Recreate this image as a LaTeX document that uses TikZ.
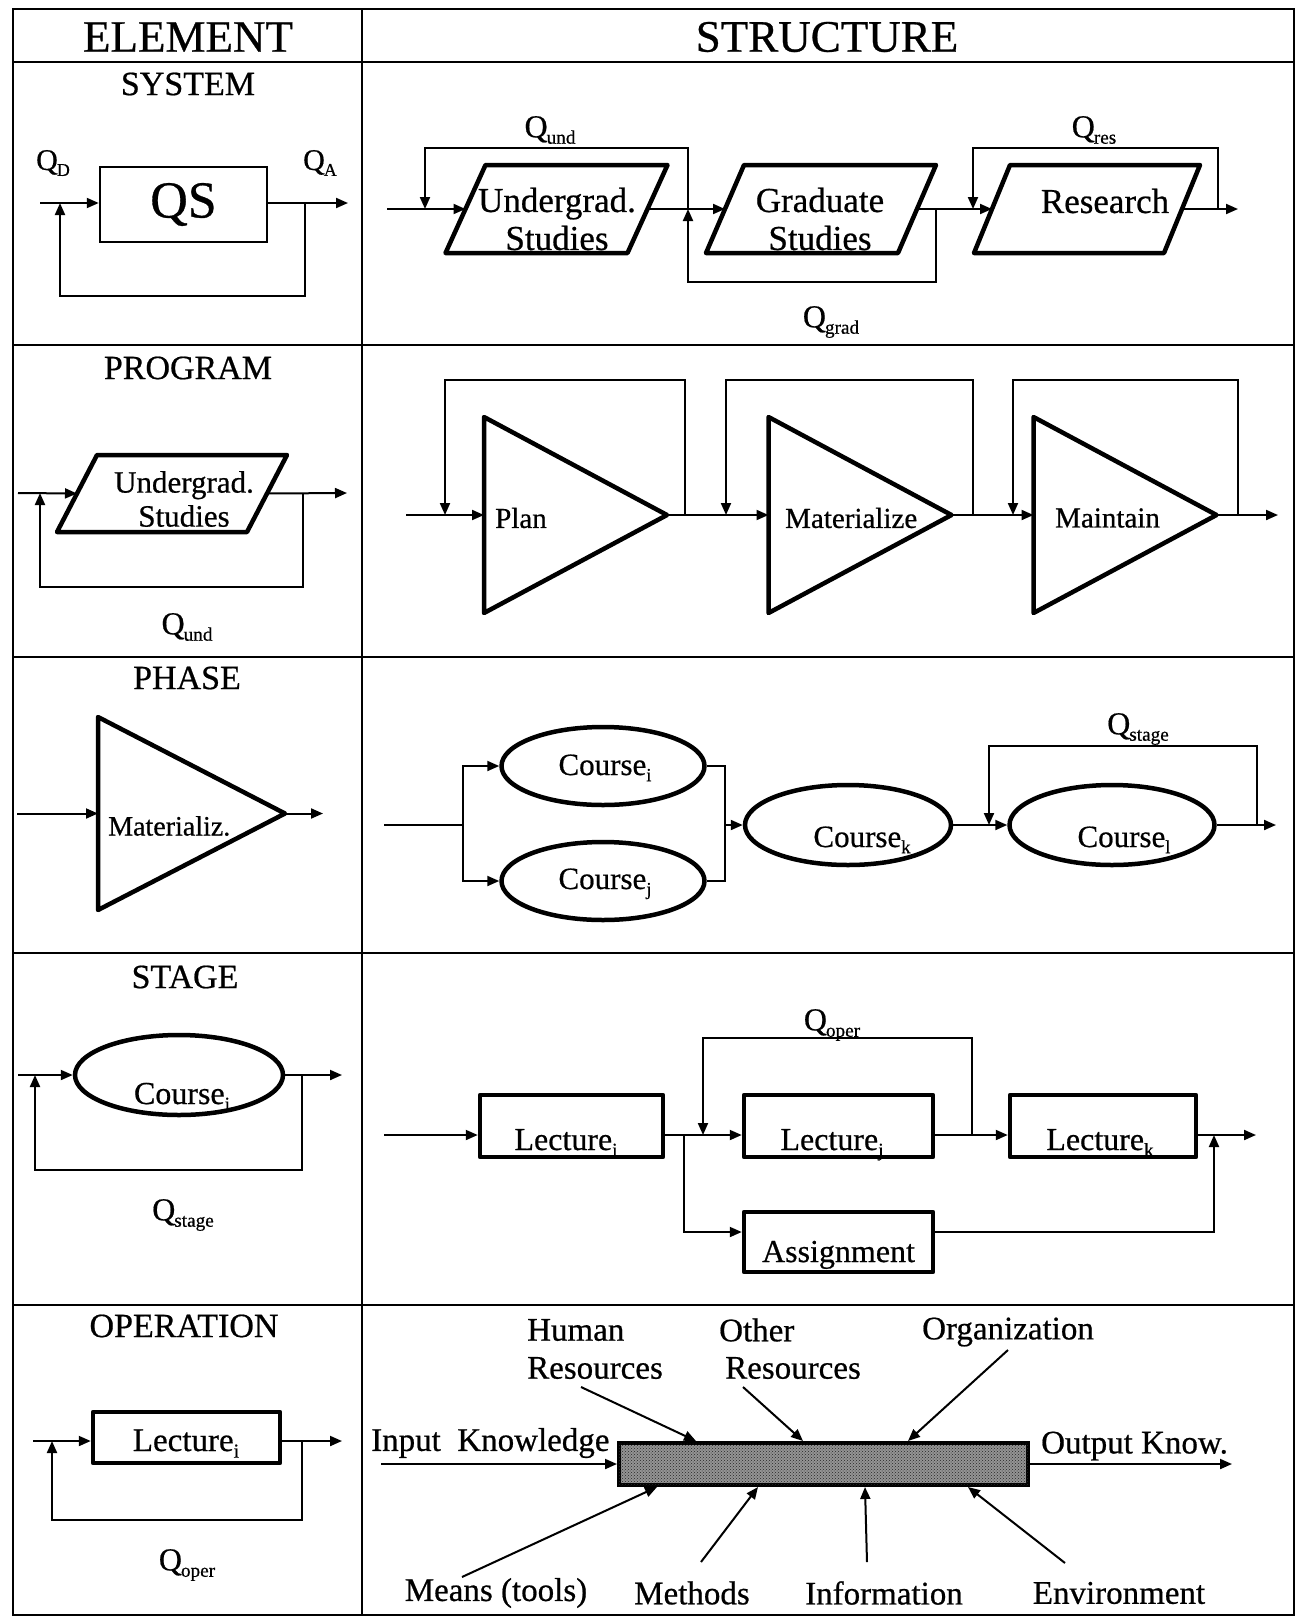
\documentclass[tikz,border=0pt]{standalone}
\usepackage{fontspec}
\setmainfont[FakeBold=0.6]{Liberation Serif}
\usepackage{graphicx}
\usetikzlibrary{arrows.meta,shapes.geometric,patterns,calc}

\newcommand\fs[1]{\fontsize{#1}{#1}\selectfont}
\newcommand\fsl[2]{\fontsize{#1}{#2}\selectfont}
\newcommand\lsub[1]{\raisebox{-0.2em}{\scalebox{0.6}{#1}}}
\newcommand\qlab[1]{Q\kern-1pt\lsub{#1}}
% parallelogram drawn over an invisible frame node
\newcommand\parashape[2]{\draw[heavy] ([xshift=#2pt]#1.north west) -- ([xshift=#2pt]#1.north east) -- ([xshift=-#2pt]#1.south east) -- ([xshift=-#2pt]#1.south west) -- cycle;}
% right-pointing triangle drawn over an invisible frame node
\newcommand\trishape[1]{\draw[heavy] (#1.north west) -- (#1.east) -- (#1.south west) -- cycle;}

\tikzset{
  grid/.style={line width=2.6pt},
  wire/.style={line width=2pt},
  flow/.style={wire, -{Triangle[length=12pt,width=10pt]}},
  heavy/.style={line width=4.5pt, line join=round},
  frame/.style={draw=none, outer sep=0pt, inner sep=0pt},
  hdr/.style={inner sep=0pt, font=\fs{45}},
  ttl/.style={inner sep=0pt, font=\fs{34}},
  txt/.style={inner sep=0pt, font=\fs{33}},
  qtxt/.style={inner sep=0pt, font=\fs{32}},
  lab/.style={inner sep=0pt, anchor=base},
  course/.style={ellipse, draw, heavy, inner sep=0pt},
  lbox/.style={draw, heavy, inner sep=0pt, minimum height=62pt},
}

\begin{document}
\begin{tikzpicture}[x=1pt,y=-1pt]
\useasboundingbox (0,0) rectangle (1297,1618);

% ---------- table grid ----------
\draw[grid] (13,9) rectangle (1294,1615);
\draw[grid] (362,9) -- (362,1615);
\foreach \yy in {62,345,657,953,1305}
  \draw[grid] (13,\yy) -- (1294,\yy);

\node[hdr] (hEl) at (188,37) {ELEMENT};
\node[hdr] (hSt) at (827,37) {STRUCTURE};

\node[ttl] (tSys) at (188,84) {SYSTEM};
\node[ttl] (tPrg) at (188,368) {PROGRAM};
\node[ttl] (tPha) at (187,678) {PHASE};
\node[ttl] (tStg) at (185,977) {STAGE};
\node[ttl] (tOpe) at (184,1326) {OPERATION};

% ---------- SYSTEM : element ----------
\node[draw, line width=2.5pt, minimum width=167pt, minimum height=75pt, inner sep=0pt, font=\fs{52}] (qs) at (183.5,204.5) {QS};
\coordinate (a1) at (40,203);
\coordinate (a2) at (348,203);
\coordinate (a3) at (305,296);
\coordinate (a4) at (60,296);
\draw[flow] (a1) -- (a1 -| qs.west);
\draw[flow] (a2 -| qs.east) -- (a2);
\draw[flow] (a3 |- a2) -- (a3) -- (a4) -- (a4 |- a1);
\node[inner sep=0pt, font=\fs{30}] (lQD) at (53,163) {\qlab{D}};
\node[inner sep=0pt, font=\fs{30}] (lQA) at (320,163) {\qlab{A}};

% ---------- SYSTEM : structure ----------
\node[frame, minimum width=182pt, minimum height=88pt] (ug) at (556.5,209) {};
\parashape{ug}{20}
\node[inner sep=0pt, font=\fsl{35}{38}, align=center] (ugT) at (557,219) {Undergrad.\\Studies};
\node[frame, minimum width=192pt, minimum height=88pt] (gs) at (821,209) {};
\parashape{gs}{19}
\node[inner sep=0pt, font=\fsl{35}{38}, align=center] (gsT) at (820,219) {Graduate\\Studies};
\node[frame, minimum width=190pt, minimum height=88pt] (rs) at (1087,209) {};
\parashape{rs}{18}
\node[inner sep=0pt, font=\fs{35}] (rsT) at (1105,201) {Research};

\coordinate (b0) at (387,209);
\coordinate (b1) at (425,148);
\coordinate (b2) at (688,148);
\coordinate (b3) at (936,282);
\coordinate (b4) at (688,282);
\coordinate (b5) at (973,148);
\coordinate (b6) at (1218,148);
\coordinate (b7) at (1238,209);
\draw[flow] (b0) -- (ug.west);
\draw[flow] (ug.east) -- (gs.west);
\draw[flow] (gs.east) -- (rs.west);
\draw[flow] (rs.east) -- (b7);
\draw[flow] (b2 |- ug.east) -- (b2) -- (b1) -- (b1 |- ug.west);
\draw[flow] (b3 |- gs.east) -- (b3) -- (b4) -- (b4 |- gs.west);
\draw[flow] (b6 |- b7) -- (b6) -- (b5) -- (b5 |- rs.west);
\node[qtxt] (lQu) at (550,130) {\qlab{und}};
\node[qtxt] (lQg) at (831,322) {\qlab{grad}};
\node[qtxt] (lQr) at (1094,130) {\qlab{res}};

% ---------- PROGRAM : element ----------
\node[frame, minimum width=190pt, minimum height=77pt] (pu) at (172,493.5) {};
\parashape{pu}{20}
\node[inner sep=0pt, font=\fsl{31}{34}, align=center] (puT) at (184,499) {Undergrad.\\Studies};
\coordinate (c0) at (18,493);
\coordinate (c1) at (303,587);
\coordinate (c2) at (40,587);
\coordinate (c3) at (347,493);
\draw[flow] (c0) -- (pu.west);
\draw[flow] (pu.east) -- (c3);
\draw[flow] (c1 |- c3) -- (c1) -- (c2) -- (c2 |- c0);
\node[qtxt] (lQu2) at (187,627) {\qlab{und}};

% ---------- PROGRAM : structure ----------
\node[frame, minimum width=183pt, minimum height=196pt] (tp) at (575.5,515) {};
\trishape{tp}
\node[frame, minimum width=183pt, minimum height=196pt] (tm) at (860,515) {};
\trishape{tm}
\node[frame, minimum width=183pt, minimum height=196pt] (tn) at (1125,515) {};
\trishape{tn}
\node[inner sep=0pt, font=\fs{29}, anchor=west] (tpT) at (495,518) {Plan};
\node[inner sep=0pt, font=\fs{29}, anchor=west] (tmT) at (785,518) {Materialize};
\node[inner sep=0pt, font=\fs{29}, anchor=west] (tnT) at (1055,518) {Maintain};

\coordinate (d0) at (406,515);
\coordinate (d1) at (445,380);
\coordinate (d2) at (685,380);
\coordinate (d3) at (726,380);
\coordinate (d4) at (973,380);
\coordinate (d5) at (1013,380);
\coordinate (d6) at (1238,380);
\coordinate (d7) at (1278,515);
\draw[flow] (d0) -- (tp.west);
\draw[flow] (tp.east) -- (tm.west);
\draw[flow] (tm.east) -- (tn.west);
\draw[flow] (tn.east) -- (d7);
\draw[flow] (d2 |- tp.east) -- (d2) -- (d1) -- (d1 |- tp.west);
\draw[flow] (d4 |- tm.east) -- (d4) -- (d3) -- (d3 |- tm.west);
\draw[flow] (d6 |- tn.east) -- (d6) -- (d5) -- (d5 |- tn.west);

% ---------- PHASE : element ----------
\node[frame, minimum width=187pt, minimum height=193pt] (ph) at (191.5,813.5) {};
\trishape{ph}
\node[inner sep=0pt, font=\fs{28}, anchor=west] (phT) at (108,826) {Materializ.};
\coordinate (e0) at (17,813.5);
\coordinate (e1) at (323,813.5);
\draw[flow] (e0) -- (ph.west);
\draw[flow] (ph.east) -- (e1);

% ---------- PHASE : structure ----------
\node[course, minimum width=203pt, minimum height=78pt] (ci) at (603,766) {};
\node[course, minimum width=203pt, minimum height=78pt] (cj) at (603,881) {};
\node[course, minimum width=206pt, minimum height=80pt] (ck) at (848,825) {};
\node[course, minimum width=205pt, minimum height=80pt] (cl) at (1112,825) {};
\node[lab, font=\fs{31}] (ciT) at (605,775) {Course\lsub{i}};
\node[lab, font=\fs{31}] (cjT) at (605,889) {Course\lsub{j}};
\node[lab, font=\fs{31}] (ckT) at (862,847) {Course\lsub{k}};
\node[lab, font=\fs{31}] (clT) at (1124,847) {Course\lsub{l}};

\coordinate (f0) at (384,825);
\coordinate (f1) at (463,825);
\coordinate (f2) at (725,825);
\coordinate (f3) at (989,746);
\coordinate (f4) at (1257,746);
\coordinate (f5) at (1276,825);
\draw[wire] (f0) -- (f1);
\draw[flow] (f1) |- (ci.west);
\draw[flow] (f1) |- (cj.west);
\draw[wire] (ci.east) -| (f2);
\draw[wire] (cj.east) -| (f2);
\draw[flow] (f2) -- (ck.west);
\draw[flow] (ck.east) -- (cl.west);
\draw[flow] (cl.east) -- (f5);
\draw[flow] (f4 |- cl.east) -- (f4) -- (f3) -- (f3 |- cl.west);
\node[qtxt] (lQs) at (1138,729) {\qlab{stage}};

% ---------- STAGE : element ----------
\node[course, minimum width=208pt, minimum height=80pt] (sc) at (179,1075) {};
\node[lab, font=\fs{32}] (scT) at (182,1104) {Course\lsub{i}};
\coordinate (g0) at (18,1075);
\coordinate (g1) at (302,1170);
\coordinate (g2) at (35,1170);
\coordinate (g3) at (342,1075);
\draw[flow] (g0) -- (sc.west);
\draw[flow] (sc.east) -- (g3);
\draw[flow] (g1 |- g3) -- (g1) -- (g2) -- (g2 |- g0);
\node[qtxt] (lQs2) at (183,1215) {\qlab{stage}};

% ---------- STAGE : structure ----------
\node[lbox, minimum width=183pt] (li) at (571.5,1126) {};
\node[lbox, minimum width=189pt] (lj) at (838.5,1126) {};
\node[lbox, minimum width=186pt] (lk) at (1103,1126) {};
\node[lbox, minimum width=189pt, minimum height=60pt] (as) at (838.5,1242) {};
\node[lab, font=\fs{32}] (liT) at (566,1150) {Lecture\lsub{i}};
\node[lab, font=\fs{32}] (ljT) at (832,1150) {Lecture\lsub{j}};
\node[lab, font=\fs{32}] (lkT) at (1100,1150) {Lecture\lsub{k}};
\node[lab, font=\fs{32}] (asT) at (838.5,1262) {Assignment};

\coordinate (h0) at (384,1135);
\coordinate (h1) at (684,1232);
\coordinate (h2) at (703,1038);
\coordinate (h3) at (972,1038);
\coordinate (h4) at (1214,1232);
\coordinate (h5) at (1256,1135);
\draw[flow] (h0) -- (h0 -| li.west);
\draw[flow] (h0 -| li.east) -- (h0 -| lj.west);
\draw[flow] (h0 -| lj.east) -- (h0 -| lk.west);
\draw[flow] (h0 -| lk.east) -- (h5);
\draw[flow] (h1 |- h0) -- (h1) -- (h1 -| as.west);
\draw[flow] (h1 -| as.east) -- (h4) -- (h4 |- h0);
\draw[flow] (h3 |- h0) -- (h3) -- (h2) -- (h2 |- h0);
\node[qtxt] (lQo) at (832,1025) {\qlab{oper}};

% ---------- OPERATION : element ----------
\node[draw, heavy, inner sep=0pt, minimum width=187pt, minimum height=51pt] (ob) at (186.5,1437.5) {};
\node[lab, font=\fs{33}] (obT) at (186,1451) {Lecture\lsub{i}};
\coordinate (k0) at (33,1441);
\coordinate (k1) at (302,1520);
\coordinate (k2) at (52,1520);
\coordinate (k3) at (342,1441);
\draw[flow] (k0) -- (k0 -| ob.west);
\draw[flow] (k0 -| ob.east) -- (k3);
\draw[flow] (k1 |- k0) -- (k1) -- (k2) -- (k2 |- k0);
\node[qtxt] (lQo2) at (187,1565) {\qlab{oper}};

% ---------- OPERATION : structure ----------
\node[draw, line width=4pt, inner sep=0pt, minimum width=409pt, minimum height=42pt,
      fill=black!42, postaction={pattern=crosshatch dots, pattern color=black!85}] (kb) at (823.5,1464) {};
\coordinate (m0) at (381,1464);
\coordinate (m1) at (1232,1464);
\draw[flow] (m0) -- (kb.west);
\draw[flow] (kb.east) -- (m1);

\coordinate (n1) at (581,1387);
\coordinate (n2) at (743,1387);
\coordinate (n3) at (1008,1350);
\coordinate (n4) at (462,1577);
\coordinate (n5) at (701,1562);
\coordinate (n6) at (867,1562);
\coordinate (n7) at (1065,1563);
\draw[flow] (n1) -- ([xshift=79pt]kb.north west);
\draw[flow] (n2) -- ([xshift=186pt]kb.north west);
\draw[flow] (n3) -- ([xshift=291pt]kb.north west);
\draw[flow] (n4) -- ([xshift=40pt]kb.south west);
\draw[flow] (n5) -- ([xshift=141pt]kb.south west);
\draw[flow] (n6) -- ([xshift=248pt]kb.south west);
\draw[flow] (n7) -- ([xshift=351pt]kb.south west);

\node[txt, anchor=west] (lIn) at (371,1443) {Input\ \ Knowledge};
\node[txt, anchor=west] (lOut) at (1041,1446) {Output Know.};
\node[txt, anchor=west] (lHu) at (527,1330) {Human};
\node[txt, anchor=west] (lHr) at (527,1368) {Resources};
\node[txt, anchor=west] (lOt) at (719,1330) {Other};
\node[txt, anchor=west] (lOr) at (725,1368) {Resources};
\node[txt, anchor=west] (lOrg) at (922,1332) {Organization};
\node[txt] (lMe) at (496,1593) {Means (tools)};
\node[txt] (lMt) at (692,1593) {Methods};
\node[txt] (lIf) at (884,1593) {Information};
\node[txt] (lEn) at (1119,1593) {Environment};

\end{tikzpicture}
\end{document}
